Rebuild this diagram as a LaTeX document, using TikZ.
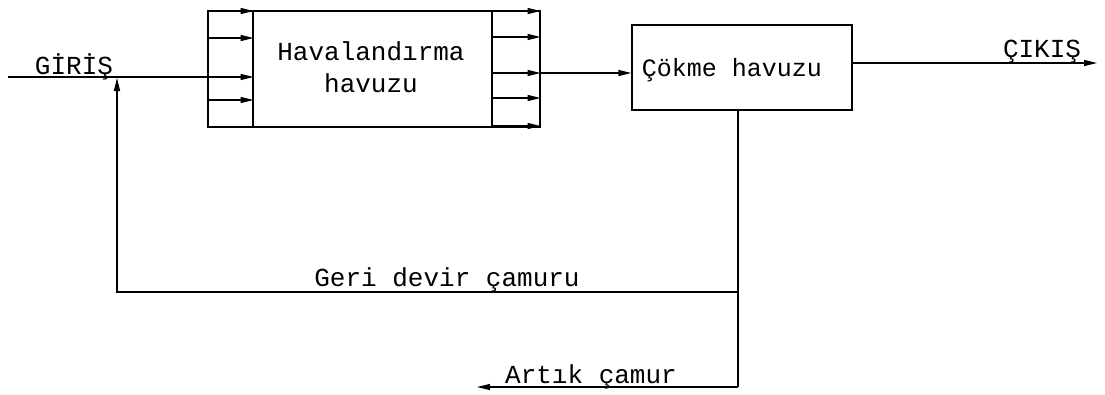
\documentclass[tikz,border=0pt]{standalone}
\usepackage{fontspec}
\setmainfont{Liberation Mono}
\usetikzlibrary{arrows.meta}

\tikzset{
  unitbox/.style={draw, line width=1.3pt, inner sep=0pt},
  flow/.style={line width=1.3pt},
  flowarrow/.style={line width=1.3pt, -{Triangle[length=13pt,width=6pt]}},
  lbl/.style={anchor=base, inner sep=0pt, font=\fontsize{26}{28}\selectfont},
}

\begin{document}
\begin{tikzpicture}[x=1pt,y=1pt]
\useasboundingbox (0,0) rectangle (1105,-394);

% aeration basin with inlet and outlet distribution compartments
\node[unitbox, minimum width=45pt, minimum height=116pt] (inL) at (230.5,-69) {};
\node[unitbox, minimum width=239pt, minimum height=116pt] (aer) at (372.5,-69) {};
\node[unitbox, minimum width=48pt, minimum height=116pt] (outR) at (516,-69) {};
\node[lbl] (aerT1) at (371,-60) {Havalandırma};
\node[lbl] (aerT2) at (371,-92) {havuzu};

% settling basin
\node[unitbox, minimum width=220pt, minimum height=85pt] (cok) at (742,-67.5) {};
\node[lbl, font=\fontsize{25}{27}\selectfont] (cokT) at (732,-76) {Çökme havuzu};

% inlet distribution arrows
\foreach \yy in {11,38,77,100}
  \draw[flowarrow] (inL.west |- 0,-\yy) -- (inL.east |- 0,-\yy);
% outlet collection arrows
\foreach \yy in {11,37,73,98,126}
  \draw[flowarrow] (outR.west |- 0,-\yy) -- (outR.east |- 0,-\yy);

% influent
\coordinate (src) at (8,-77);
\coordinate (mix) at (117,-77);
\draw[flow] (src) -- (inL.west |- src);
\node[lbl] (giris) at (74,-74) {GİRİŞ};

% aeration -> settling
\draw[flowarrow] (outR.east |- 0,-73) -- (cok.west |- 0,-73);

% effluent
\coordinate (eff) at (1097,-63);
\draw[flowarrow] (cok.east |- eff) -- (eff);
\node[lbl] (cikis) at (1042,-57) {ÇIKIŞ};

% sludge line
\coordinate (sb) at (738,-110);
\coordinate (split) at (738,-292);
\coordinate (sbot) at (738,-387);
\coordinate (waste) at (477,-387);
\draw[flow] (sb) -- (split) -- (sbot);
\draw[flowarrow] (split) -- (mix |- split) -- ([yshift=-1pt]mix);
\draw[flowarrow] (sbot) -- (waste);
\node[lbl] (geri) at (447,-286) {Geri devir çamuru};
\node[lbl] (artik) at (591,-383) {Artık çamur};
\end{tikzpicture}
\end{document}
